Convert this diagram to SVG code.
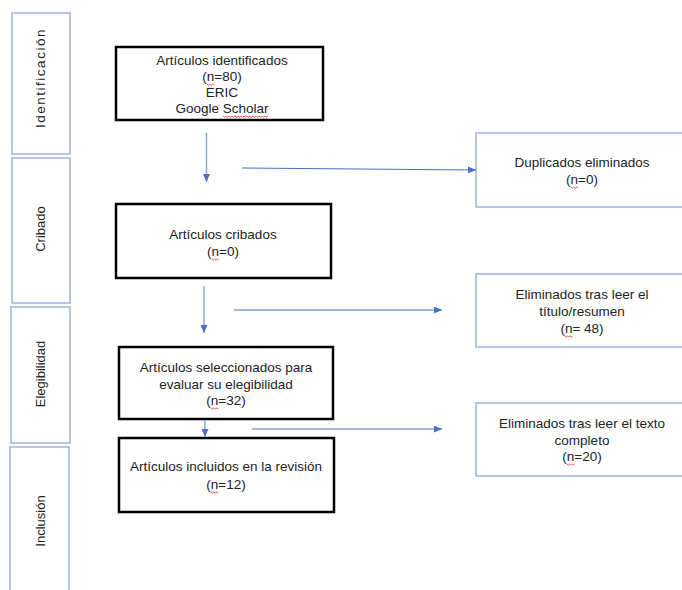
<svg xmlns="http://www.w3.org/2000/svg" width="682" height="590" viewBox="0 0 682 590">
<style>
.phase{fill:#fff;stroke:#9db3e0;stroke-width:1.5}
.main{fill:#fff;stroke:#000;stroke-width:2.5}
.side{fill:#fff;stroke:#9db3e0;stroke-width:1.5}
.t{font-family:"Liberation Sans",Arial,sans-serif;font-size:13.5px;fill:#222;text-anchor:middle}
.pt{font-family:"Liberation Sans",Arial,sans-serif;font-size:13px;fill:#222;text-anchor:middle}
.c{stroke:#4472c4;stroke-width:1;fill:none}
.cv{stroke:#8ea9db;stroke-width:1.5;fill:none}
.sp{stroke:#e03030;stroke-width:0.8;fill:none}
</style>
<defs>
<marker id="ah" markerUnits="userSpaceOnUse" markerWidth="8" markerHeight="7" refX="8" refY="3.5" orient="auto">
<path d="M0,0 L8,3.5 L0,7 z" fill="#4472c4"/>
</marker>
</defs>

<g id="phase-identificacion">
<rect class="phase" x="12" y="13" width="58" height="141"/>
<text class="pt" transform="translate(45,78) rotate(-90)" style="font-size:13.5px;letter-spacing:1.5px">Identificación</text>
</g>
<g id="phase-cribado">
<rect class="phase" x="12" y="158" width="58" height="145"/>
<text class="pt" transform="translate(45,229) rotate(-90)">Cribado</text>
</g>
<g id="phase-elegibilidad">
<rect class="phase" x="11" y="307" width="59" height="136"/>
<text class="pt" transform="translate(45,374) rotate(-90)">Elegibilidad</text>
</g>
<g id="phase-inclusion">
<rect class="phase" x="10" y="447" width="59" height="160"/>
<text class="pt" transform="translate(45,521) rotate(-90)">Inclusión</text>
</g>

<g id="identificados">
<rect class="main" x="116" y="47" width="207" height="73"/>
<text class="t" x="222" y="65">Artículos identificados</text>
<text class="t" x="222" y="81">(n=80)</text>
<text class="t" x="222" y="97">ERIC</text>
<text class="t" x="222" y="113">Google Scholar</text>
</g>
<g id="cribados">
<rect class="main" x="116" y="204" width="215" height="74"/>
<text class="t" x="223" y="239">Artículos cribados</text>
<text class="t" x="223" y="256">(n=0)</text>
</g>
<g id="seleccionados">
<rect class="main" x="119" y="347" width="214" height="72"/>
<text class="t" x="226" y="372">Artículos seleccionados para</text>
<text class="t" x="226" y="388.5">evaluar su elegibilidad</text>
<text class="t" x="226" y="405">(n=32)</text>
</g>
<g id="incluidos">
<rect class="main" x="119" y="438" width="215" height="74"/>
<text class="t" x="226" y="471">Artículos incluidos en la revisión</text>
<text class="t" x="226" y="489">(n=12)</text>
</g>

<g id="duplicados">
<rect class="side" x="476" y="133" width="212" height="74"/>
<text class="t" x="582" y="167">Duplicados eliminados</text>
<text class="t" x="582" y="184">(n=0)</text>
</g>
<g id="eliminados-titulo">
<rect class="side" x="476" y="274" width="212" height="73"/>
<text class="t" x="582" y="299">Eliminados tras leer el</text>
<text class="t" x="582" y="316">título/resumen</text>
<text class="t" x="582" y="333">(n= 48)</text>
</g>
<g id="eliminados-texto">
<rect class="side" x="476" y="403" width="212" height="73"/>
<text class="t" x="582" y="428">Eliminados tras leer el texto</text>
<text class="t" x="582" y="445">completo</text>
<text class="t" x="582" y="461">(n=20)</text>
</g>

<g id="connectors">
<line class="cv" x1="206.5" y1="133" x2="206.5" y2="182" marker-end="url(#ah)"/>
<line class="c" x1="242" y1="168" x2="476" y2="170" marker-end="url(#ah)"/>
<line class="cv" x1="204" y1="286" x2="204" y2="333" marker-end="url(#ah)"/>
<line class="c" x1="234" y1="310" x2="442" y2="310" marker-end="url(#ah)"/>
<line class="cv" x1="205" y1="420" x2="205" y2="437" marker-end="url(#ah)"/>
<line class="c" x1="252" y1="429" x2="442" y2="429" marker-end="url(#ah)"/>
</g>

<g id="spellcheck">
<path class="sp" d="M206.8,84 l1.5,1.2 l1.5,-1.2 l1.5,1.2 l1.5,-1.2 l1.5,1.2"/>
<path class="sp" d="M223,116 l1.5,1.2 l1.5,-1.2 l1.5,1.2 l1.5,-1.2 l1.5,1.2 l1.5,-1.2 l1.5,1.2 l1.5,-1.2 l1.5,1.2 l1.5,-1.2 l1.5,1.2 l1.5,-1.2 l1.5,1.2 l1.5,-1.2 l1.5,1.2 l1.5,-1.2 l1.5,1.2 l1.5,-1.2 l1.5,1.2 l1.5,-1.2 l1.5,1.2 l1.5,-1.2 l1.5,1.2 l1.5,-1.2 l1.5,1.2 l1.5,-1.2 l1.5,1.2 l1.5,-1.2 l1.5,1.2 l1.5,-1.2"/>
<path class="sp" d="M211.5,259 l1.5,1.2 l1.5,-1.2 l1.5,1.2 l1.5,-1.2 l1.5,1.2"/>
<path class="sp" d="M210.8,408 l1.5,1.2 l1.5,-1.2 l1.5,1.2 l1.5,-1.2 l1.5,1.2"/>
<path class="sp" d="M210.8,492 l1.5,1.2 l1.5,-1.2 l1.5,1.2 l1.5,-1.2 l1.5,1.2"/>
<path class="sp" d="M570.6,187 l1.5,1.2 l1.5,-1.2 l1.5,1.2 l1.5,-1.2 l1.5,1.2"/>
<path class="sp" d="M564.9,336 l1.5,1.2 l1.5,-1.2 l1.5,1.2 l1.5,-1.2 l1.5,1.2"/>
<path class="sp" d="M566.8,464 l1.5,1.2 l1.5,-1.2 l1.5,1.2 l1.5,-1.2 l1.5,1.2"/>
</g>
</svg>
